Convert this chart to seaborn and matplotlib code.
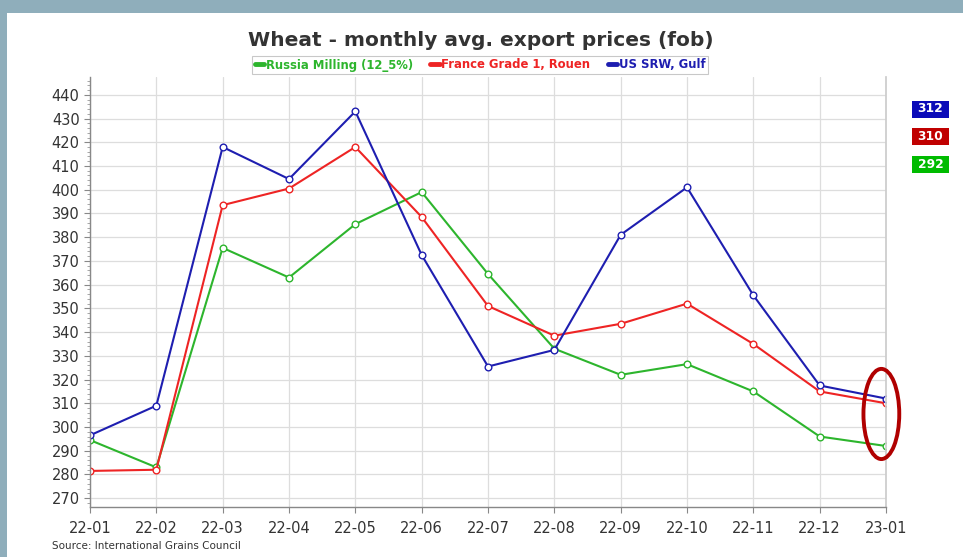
import matplotlib
matplotlib.use("Agg")
import matplotlib.pyplot as plt
from matplotlib.lines import Line2D
from matplotlib.patches import Ellipse, Rectangle
from matplotlib.ticker import MultipleLocator
import pandas as pd
import seaborn as sns

months = ["22-01", "22-02", "22-03", "22-04", "22-05", "22-06", "22-07",
          "22-08", "22-09", "22-10", "22-11", "22-12", "23-01"]
russia = [294.5, 283, 375.5, 363, 385.5, 399, 364.5, 333, 322, 326.5, 315, 296, 292]
france = [281.5, 282, 393.5, 400.5, 418, 388.5, 351, 338.5, 343.5, 352, 335, 315, 310]
us_srw = [296.5, 309, 418, 404.5, 433, 372.5, 325.5, 332.5, 381, 401, 355.5, 317.5, 312]
series_names = ["Russia Milling (12_5%)", "France Grade 1, Rouen", "US SRW, Gulf"]
line_colors = ["#2DB52D", "#EE2424", "#1E1EB0"]
box_colors = ["#0A0AB8", "#C00000", "#00BB00"]  # blue, red, green (top to bottom)

df = pd.DataFrame({"month": months * 3,
                   "price": russia + france + us_srw,
                   "series": [s for s in series_names for _ in months]})

sns.set_theme(style="whitegrid")
plt.rcParams["font.family"] = ["DejaVu Sans"]

fig = plt.figure(figsize=(9.63, 5.57), dpi=100)
fig.patch.set_facecolor("white")
ax = fig.add_axes([90 / 963, 1 - 507 / 557, 796 / 963, 430 / 557])
ax.set_facecolor("white")

for name, col in zip(series_names, line_colors):
    sns.lineplot(data=df[df["series"] == name], x="month", y="price", ax=ax,
                 color=col, linewidth=1.5, marker="o", markersize=4.8,
                 markerfacecolor="white", markeredgecolor=col,
                 markeredgewidth=1.0, legend=False)

ax.set_xlim(0, len(months) - 1)
ax.set_ylim(266.3, 447.5)
ax.yaxis.set_major_locator(MultipleLocator(10))
ax.yaxis.set_minor_locator(MultipleLocator(2))
ax.set_xlabel("")
ax.set_ylabel("")
ax.grid(True, which="major", color="#DDDDDD", linewidth=0.9)
ax.grid(False, which="minor")
ax.tick_params(axis="both", which="major", labelsize=10.5, labelcolor="#333333",
               color="#888888", length=4, width=0.8, left=True, bottom=True)
ax.tick_params(axis="y", which="minor", length=2, width=0.6, color="#999999", left=True)
ax.tick_params(axis="x", pad=6)
for side in ["left", "bottom"]:
    ax.spines[side].set_color("#888888")
    ax.spines[side].set_linewidth(1.0)
ax.spines["right"].set_color("#CCCCCC")
ax.spines["top"].set_visible(False)

# ellipse highlighting latest values
ax.add_patch(Ellipse((11.93, 305.5), 0.54, 38, fill=False, edgecolor="#B00000",
                     linewidth=2.8, clip_on=False, zorder=5))

# slide frame strips
fig.patches.append(Rectangle((0, 1 - 13 / 557), 1, 13 / 557, transform=fig.transFigure,
                             facecolor="#8FAEBB", edgecolor="none", zorder=0))
fig.patches.append(Rectangle((0, 0), 7 / 963, 1, transform=fig.transFigure,
                             facecolor="#8FAEBB", edgecolor="none", zorder=0))

fig.text(481 / 963, 1 - 41 / 557, "Wheat - monthly avg. export prices (fob)",
         ha="center", va="center", fontsize=14.5, fontweight="bold", color="#333333")

handles = [Line2D([], [], color=c, linewidth=3.5) for c in line_colors]
leg = fig.legend(handles, series_names, loc="center", bbox_to_anchor=(480 / 963, 1 - 65 / 557),
                 ncol=3, frameon=True, fancybox=False, handlelength=0.8,
                 handletextpad=0.15, columnspacing=1.5, borderpad=0.25,
                 prop={"weight": "bold", "size": 8.4})
leg.get_frame().set_edgecolor("#BBBBBB")
leg.get_frame().set_linewidth(0.8)
for txt, c in zip(leg.get_texts(), line_colors):
    txt.set_color(c)

# latest-value boxes on the right
last_vals = [us_srw[-1], france[-1], russia[-1]]
for i, (val, bc) in enumerate(zip(last_vals, box_colors)):
    yc = 109 + i * 27.5
    fig.patches.append(Rectangle((912 / 963, 1 - (yc + 8.5) / 557), 37 / 963, 17 / 557,
                                 transform=fig.transFigure, facecolor=bc, edgecolor="none"))
    fig.text(930.5 / 963, 1 - yc / 557, f"{round(val)}", ha="center", va="center",
             fontsize=8.8, fontweight="bold", color="white")

fig.text(52 / 963, 1 - 546 / 557, "Source: International Grains Council",
         ha="left", va="center", fontsize=7.5, color="#333333")

fig.savefig("out.png", dpi=100)
